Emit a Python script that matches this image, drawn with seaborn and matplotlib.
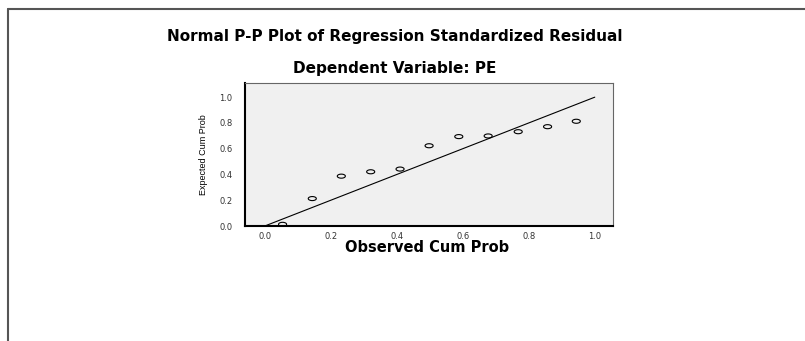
import matplotlib
matplotlib.use("Agg")
import numpy as np
import matplotlib.pyplot as plt
import seaborn as sns
from matplotlib.lines import Line2D
from matplotlib.path import Path

# observed vs expected cumulative probabilities
observed = [0.054, 0.144, 0.232, 0.321, 0.41, 0.498, 0.588, 0.677, 0.768, 0.857, 0.944]
expected = [0.013, 0.213, 0.387, 0.421, 0.442, 0.623, 0.694, 0.699, 0.732, 0.771, 0.813]
diag = [0.0, 1.0]
ticks = [0.0, 0.2, 0.4, 0.6, 0.8, 1.0]
tick_labels = ["0.0", "0.2", "0.4", "0.6", "0.8", "1.0"]

sns.set_style("white")
plt.rcParams['font.family'] = ['DejaVu Sans']
plt.rcParams['text.color'] = 'black'
plt.rcParams['axes.labelcolor'] = 'black'

fig = plt.figure(figsize=(8.05, 3.41), dpi=100)
ax = fig.add_axes([0.3043, 0.3372, 0.4571, 0.4194])
ax.set_facecolor("#f0f0f0")

# squashed open circle, like the original marker
t = np.linspace(0, 2 * np.pi, 40)
ell = Path(np.column_stack([np.cos(t), 0.5 * np.sin(t)]))

sns.lineplot(x=diag, y=diag, ax=ax, color="black", linewidth=0.8)
sns.scatterplot(x=observed, y=expected, ax=ax, marker=ell, s=34,
                facecolors="none", edgecolor="black", linewidth=0.8)

ax.set_xlim(-0.06, 1.055)
ax.set_ylim(0, 1.11)
ax.set_xticks(ticks)
ax.set_xticklabels(tick_labels)
ax.set_yticks(ticks)
ax.set_yticklabels(tick_labels)
ax.tick_params(axis="both", labelsize=6, labelcolor="#333333", color="black",
               direction="out", width=0.8)
ax.tick_params(axis="y", length=8, pad=1)
ax.tick_params(axis="x", length=2.5, pad=1.5)

for s in ["left", "bottom"]:
    ax.spines[s].set_color("black")
    ax.spines[s].set_linewidth(1.5)
for s in ["top", "right"]:
    ax.spines[s].set_color("#666666")
    ax.spines[s].set_linewidth(0.8)

ax.set_xlabel("Observed Cum Prob", fontsize=10.5, fontweight="bold")
ax.xaxis.set_label_coords(0.495, -0.095)
ax.set_ylabel("Expected Cum Prob", fontsize=6.5,
              family=["Liberation Sans Narrow", "Liberation Sans"])
ax.yaxis.set_label_coords(-0.10, 0.5)

fig.text(395 / 805, 1 - 37 / 341, "Normal P-P Plot of Regression Standardized Residual",
         ha="center", va="center", fontsize=11, fontweight="bold")
fig.text(395 / 805, 1 - 69 / 341, "Dependent Variable: PE",
         ha="center", va="center", fontsize=11, fontweight="bold")

# outer frame (top and left edges only)
fig.add_artist(Line2D([8 / 805, 1.0], [1 - 9 / 341, 1 - 9 / 341],
                      transform=fig.transFigure, color="#555555", linewidth=1.5))
fig.add_artist(Line2D([8 / 805, 8 / 805], [0.0, 1 - 9 / 341],
                      transform=fig.transFigure, color="#555555", linewidth=1.5))

fig.savefig("out.png", dpi=100)
